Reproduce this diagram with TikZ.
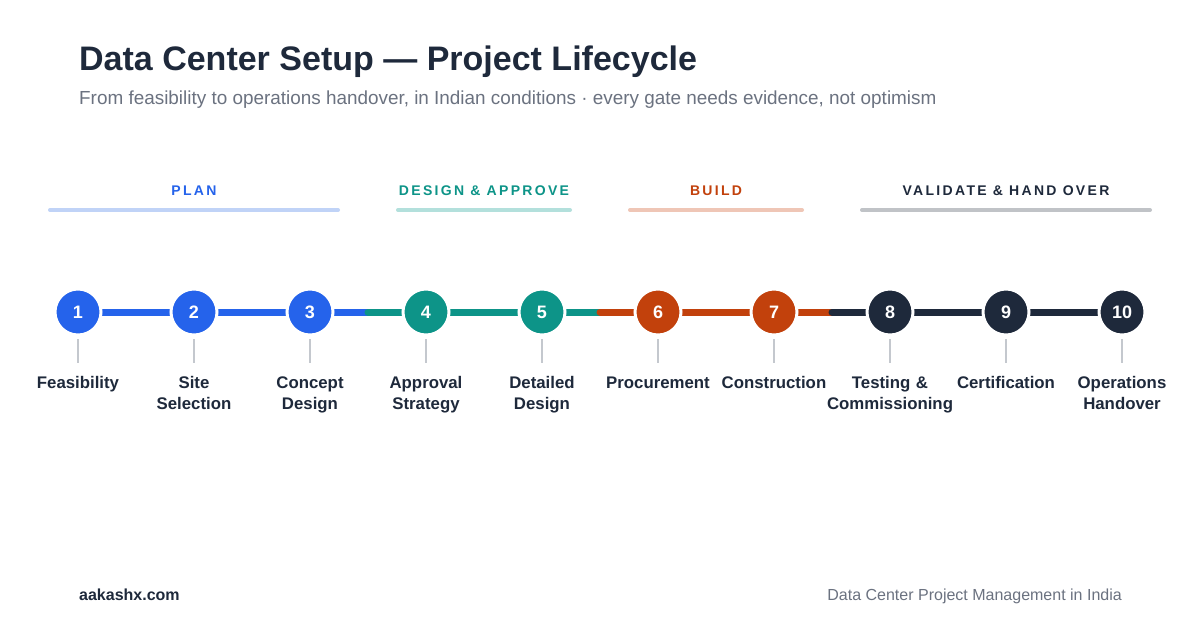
\documentclass[tikz,border=0pt]{standalone}
\usepackage{fontspec}
\setmainfont{Liberation Sans}
\newfontfamily\phasefont[LetterSpace=16.5]{Liberation Sans}
\usepackage{tikz}
\usetikzlibrary{positioning, calc, backgrounds}
\usepackage{xcolor}

\definecolor{ink}{HTML}{1E293B}
\definecolor{muted}{HTML}{6B7280}
\definecolor{tickgray}{HTML}{C4C8CE}
\definecolor{planblue}{HTML}{2563EB}
\definecolor{designteal}{HTML}{0D9488}
\definecolor{buildorange}{HTML}{C2410C}
\definecolor{validink}{HTML}{1E293B}
\definecolor{planlight}{HTML}{C0D3F7}
\definecolor{designlight}{HTML}{B3E0DC}
\definecolor{buildlight}{HTML}{EFC6B6}
\definecolor{validlight}{HTML}{C0C3C7}

\begin{document}
\begin{tikzpicture}[
    x=1pt, y=-1pt,
    stage/.style={
        circle,
        draw=white,
        line width=3pt,
        minimum size=46pt,
        inner sep=0pt,
        outer sep=0pt,
        on grid,
        node distance=116pt,
        text=white,
        font=\fontsize{18}{18}\selectfont\bfseries
    },
    stagename/.style={
        text width=132pt,
        align=center,
        inner sep=0pt,
        anchor=north,
        text=ink,
        execute at begin node=\strut,
        font=\fontsize{16.8}{21}\selectfont\bfseries
    },
    phase/.style={anchor=base, inner sep=0pt, font=\phasefont\fontsize{14}{14}\selectfont\bfseries},
    phasebar/.style={line width=4pt, line cap=round},
    link/.style={line width=7pt, line cap=round},
    tick/.style={draw=tickgray, line width=1.6pt}
]

% Heading
\node[anchor=base west, inner sep=0pt, text=ink, font=\fontsize{34}{34}\selectfont\bfseries] (title)
    at (79,70) {Data Center Setup — Project Lifecycle};
\node[anchor=base west, inner sep=0pt, text=muted, font=\fontsize{18.9}{19}\selectfont] (subtitle)
    at (79,104) {From feasibility to operations handover, in Indian conditions · every gate needs evidence, not optimism};

% Phases
\node[phase, text=planblue] (plan) at (194,195) {PLAN};
\node[phase, text=designteal] (design) at (484,195) {DESIGN \& APPROVE};
\node[phase, text=buildorange] (build) at (716,195) {BUILD};
\node[phase, text=validink] (validate) at (1006,195) {VALIDATE \& HAND OVER};

\draw[phasebar, planlight] (50,210) -- (338,210);
\draw[phasebar, designlight] (398,210) -- (570,210);
\draw[phasebar, buildlight] (630,210) -- (802,210);
\draw[phasebar, validlight] (862,210) -- (1150,210);

% Stages
\node[stage, fill=planblue] (c1) at (78,312) {1};
\node[stage, fill=planblue, right=of c1] (c2) {2};
\node[stage, fill=planblue, right=of c2] (c3) {3};
\node[stage, fill=designteal, right=of c3] (c4) {4};
\node[stage, fill=designteal, right=of c4] (c5) {5};
\node[stage, fill=buildorange, right=of c5] (c6) {6};
\node[stage, fill=buildorange, right=of c6] (c7) {7};
\node[stage, fill=validink, right=of c7] (c8) {8};
\node[stage, fill=validink, right=of c8] (c9) {9};
\node[stage, fill=validink, right=of c9] (c10) {10};

% Stage names
\node[stagename, below=38.3pt of c1] (n1) {Feasibility};
\node[stagename, below=38.3pt of c2] (n2) {Site\\Selection};
\node[stagename, below=38.3pt of c3] (n3) {Concept\\Design};
\node[stagename, below=38.3pt of c4] (n4) {Approval\\Strategy};
\node[stagename, below=38.3pt of c5] (n5) {Detailed\\Design};
\node[stagename, below=38.3pt of c6] (n6) {Procurement};
\node[stagename, below=38.3pt of c7] (n7) {Construction};
\node[stagename, below=38.3pt of c8] (n8) {Testing \&\\Commissioning};
\node[stagename, below=38.3pt of c9] (n9) {Certification};
\node[stagename, below=38.3pt of c10] (n10) {Operations\\Handover};

% Ticks
\draw[tick] ([yshift=-4pt]c1.south) -- ([yshift=10pt]n1.north);
\draw[tick] ([yshift=-4pt]c2.south) -- ([yshift=10pt]n2.north);
\draw[tick] ([yshift=-4pt]c3.south) -- ([yshift=10pt]n3.north);
\draw[tick] ([yshift=-4pt]c4.south) -- ([yshift=10pt]n4.north);
\draw[tick] ([yshift=-4pt]c5.south) -- ([yshift=10pt]n5.north);
\draw[tick] ([yshift=-4pt]c6.south) -- ([yshift=10pt]n6.north);
\draw[tick] ([yshift=-4pt]c7.south) -- ([yshift=10pt]n7.north);
\draw[tick] ([yshift=-4pt]c8.south) -- ([yshift=10pt]n8.north);
\draw[tick] ([yshift=-4pt]c9.south) -- ([yshift=10pt]n9.north);
\draw[tick] ([yshift=-4pt]c10.south) -- ([yshift=10pt]n10.north);

% Timeline (behind the stages)
\coordinate (m34) at ($(c3)!0.5!(c4)$);
\coordinate (m56) at ($(c5)!0.5!(c6)$);
\coordinate (m78) at ($(c7)!0.5!(c8)$);
\begin{scope}[on background layer]
\fill[white] (0,0) rectangle (1200,630);
\draw[link, planblue] (c1) -- (c2);
\draw[link, planblue] (c2) -- (c3);
\draw[link, planblue] (c3) -- (m34);
\draw[link, designteal] (m34) -- (c4);
\draw[link, designteal] (c4) -- (c5);
\draw[link, designteal] (c5) -- (m56);
\draw[link, buildorange] (m56) -- (c6);
\draw[link, buildorange] (c6) -- (c7);
\draw[link, buildorange] (c7) -- (m78);
\draw[link, validink] (m78) -- (c8);
\draw[link, validink] (c8) -- (c9);
\draw[link, validink] (c9) -- (c10);
\end{scope}

% Footer
\node[anchor=base west, inner sep=0pt, text=ink, font=\fontsize{16}{16}\selectfont\bfseries] (site)
    at (79,600) {aakashx.com};
\node[anchor=base east, inner sep=0pt, text=muted, font=\fontsize{16}{16}\selectfont] (series)
    at (1122,600) {Data Center Project Management in India};

\end{tikzpicture}
\end{document}
